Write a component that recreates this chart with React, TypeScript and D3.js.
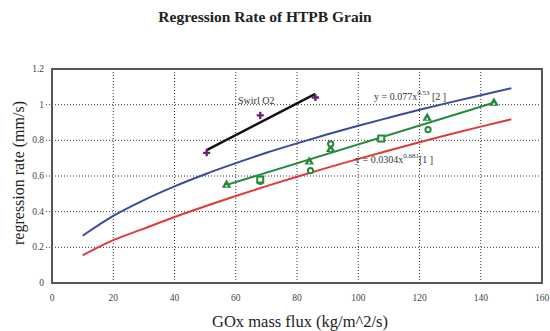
import * as d3 from 'd3';
import React from 'react';

// fitted curves
const fitX = [10, 20, 30, 40, 50, 60, 70, 80, 90, 100, 110, 120, 130, 140, 150];
const fit2Y = [0.265, 0.376, 0.465, 0.542, 0.61, 0.672, 0.73, 0.783, 0.834, 0.882, 0.927, 0.971, 1.013, 1.053, 1.092];
const fit1Y = [0.155, 0.24, 0.305, 0.37, 0.43, 0.488, 0.543, 0.596, 0.647, 0.696, 0.743, 0.789, 0.834, 0.877, 0.918];

// swirl O2 data + line
const swirlX = [50.5, 68, 86];
const swirlY = [0.73, 0.94, 1.04];
const swirlLineX = [50.5, 86];
const swirlLineY = [0.745, 1.06];

// green data
const greenLineX = [57, 145];
const greenLineY = [0.55, 1.015];
const triX = [57, 84, 91, 122.5, 144.3];
const triY = [0.55, 0.68, 0.75, 0.925, 1.01];
const circX = [68, 84.4, 91, 122.8];
const circY = [0.57, 0.63, 0.78, 0.86];
const sqX = [68, 107.5];
const sqY = [0.58, 0.81];

const xTicks = [0, 20, 40, 60, 80, 100, 120, 140, 160];
const yTicks = [0, 0.2, 0.4, 0.6, 0.8, 1, 1.2];

const font = '"Liberation Serif", "Times New Roman", serif';

export default function App() {
  const W = 550, H = 331;
  const x = d3.scaleLinear().domain([0, 160]).range([52, 542]);
  const y = d3.scaleLinear().domain([0, 1.2]).range([283, 69]);

  const line = d3.line<[number, number]>().x(d => x(d[0])).y(d => y(d[1])).curve(d3.curveMonotoneX);
  const fit2 = line(fitX.map((v, i) => [v, fit2Y[i]]));
  const fit1 = line(fitX.map((v, i) => [v, fit1Y[i]]));
  const swirlLine = line(swirlLineX.map((v, i) => [v, swirlLineY[i]]));
  const greenLine = line(greenLineX.map((v, i) => [v, greenLineY[i]]));
  const green = '#25893a';

  return (
    <svg width={W} height={H} style={{ position: 'absolute', left: 0, top: 0, background: '#fff' }} fontFamily={font}>
      <text x={265} y={22} textAnchor="middle" fontSize={15.5} fontWeight="bold" fill="#222">
        Regression Rate  of HTPB Grain
      </text>

      {/* grid */}
      {yTicks.slice(1, -1).map(t => (
        <line key={'gy' + t} x1={x(0) - 6} x2={x(160)} y1={y(t)} y2={y(t)} stroke="#333" strokeWidth={1} strokeDasharray="1,2" />
      ))}
      {xTicks.slice(1, -1).map(t => (
        <line key={'gx' + t} x1={x(t)} x2={x(t)} y1={y(1.2)} y2={y(0)} stroke="#333" strokeWidth={1} strokeDasharray="1,2" />
      ))}

      {/* frame */}
      <rect x={x(0)} y={y(1.2)} width={x(160) - x(0)} height={y(0) - y(1.2)} fill="none" stroke="#555" strokeWidth={2} />

      {/* tick labels */}
      {yTicks.map(t => (
        <text key={'ty' + t} x={x(0) - 8} y={y(t) + 3} textAnchor="end" fontSize={9.5} fill="#444">{String(t)}</text>
      ))}
      {xTicks.map(t => (
        <text key={'tx' + t} x={x(t)} y={301} textAnchor="middle" fontSize={9.5} fill="#444">{t}</text>
      ))}

      <text x={300} y={327} textAnchor="middle" fontSize={16.5} fill="#222">GOx mass flux (kg/m^2/s)</text>
      <text transform={`translate(24,173) rotate(-90)`} textAnchor="middle" fontSize={16} fill="#222">regression rate (mm/s)</text>

      {/* curves */}
      <path d={fit2 ?? ''} fill="none" stroke="#3a4a9e" strokeWidth={2} />
      <path d={fit1 ?? ''} fill="none" stroke="#e0393c" strokeWidth={2} />
      <path d={greenLine ?? ''} fill="none" stroke={green} strokeWidth={2} />
      <path d={swirlLine ?? ''} fill="none" stroke="#111" strokeWidth={2.5} />

      {/* swirl points */}
      {swirlX.map((v, i) => (
        <path key={'sw' + i} d={d3.symbol(d3.symbolCross, 28)() ?? ''} transform={`translate(${x(v)},${y(swirlY[i])})`} fill="#6b1d7a" />
      ))}

      {/* green markers */}
      {triX.map((v, i) => (
        <g key={'tr' + i}>
          <path d={d3.symbol(d3.symbolTriangle, 40)() ?? ''} transform={`translate(${x(v)},${y(triY[i])})`} fill={green} />
          <circle cx={x(v)} cy={y(triY[i]) + 1} r={1} fill="#fff" />
        </g>
      ))}
      {circX.map((v, i) => (
        <circle key={'ci' + i} cx={x(v)} cy={y(circY[i])} r={2.6} fill="#fff" stroke={green} strokeWidth={2} />
      ))}
      {sqX.map((v, i) => (
        <rect key={'sq' + i} x={x(v) - 3} y={y(sqY[i]) - 3} width={6} height={6} fill="#fff" stroke={green} strokeWidth={2} />
      ))}

      {/* annotations */}
      <text x={238} y={104} fontSize={10} fill="#333">Swirl O2</text>
      <text x={374} y={100} fontSize={10} fill="#333">
        y = 0.077x<tspan dy={-5} fontSize={7}>0.53</tspan><tspan dy={5}> [2 ]</tspan>
      </text>
      <text x={355} y={163} fontSize={10} fill="#333">
        y = 0.0304x<tspan dy={-5} fontSize={7}>0.681</tspan><tspan dy={5}>[1 ]</tspan>
      </text>
    </svg>
  );
}
